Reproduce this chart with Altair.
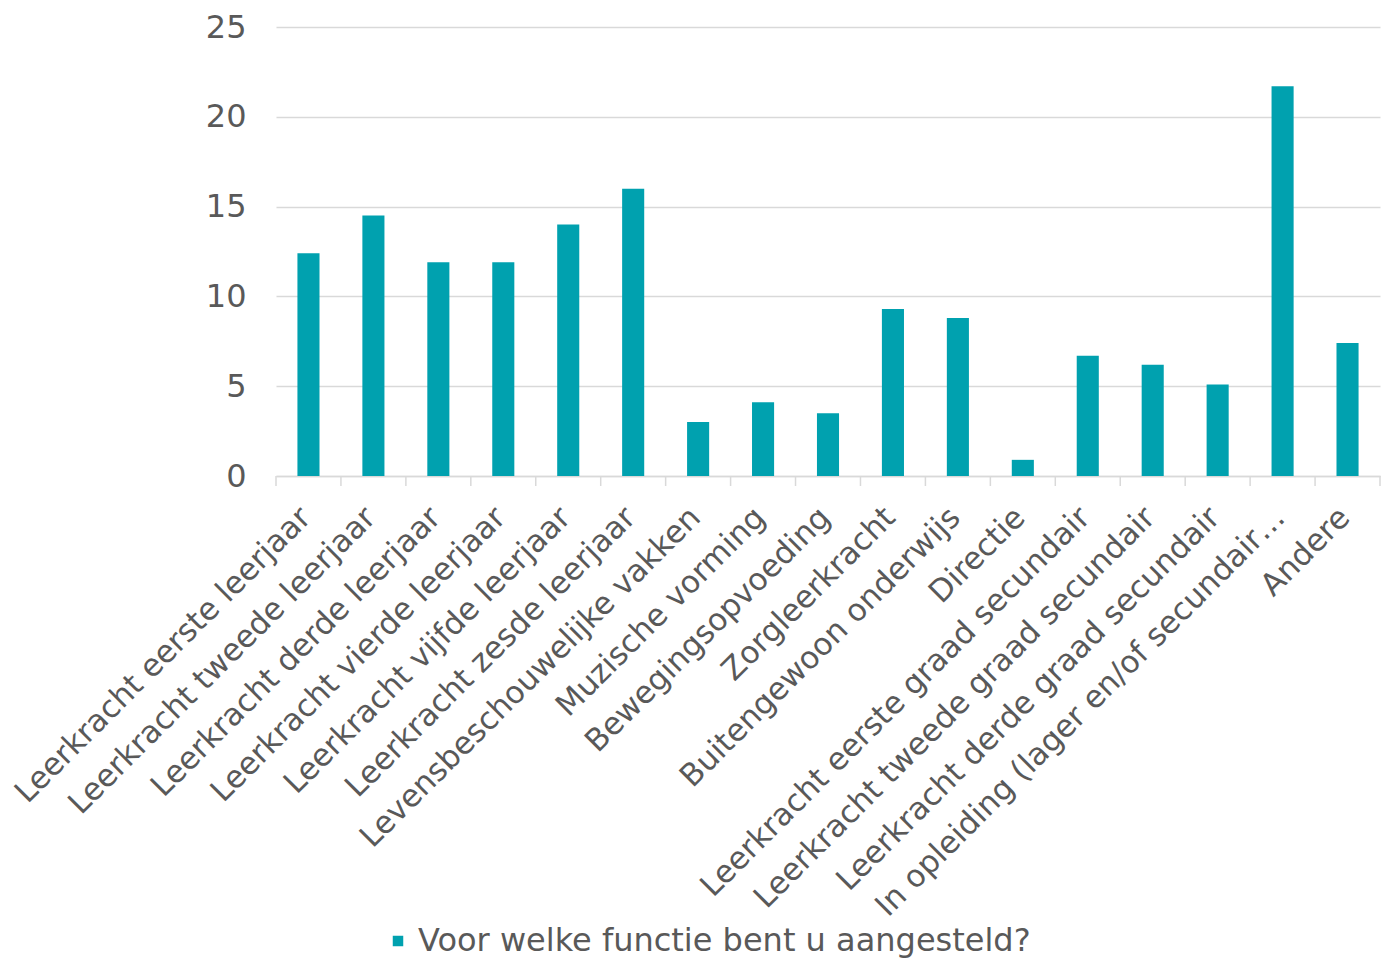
import altair as alt
import pandas as pd

categories = [
    "Leerkracht eerste leerjaar",
    "Leerkracht tweede leerjaar",
    "Leerkracht derde leerjaar",
    "Leerkracht vierde leerjaar",
    "Leerkracht vijfde leerjaar",
    "Leerkracht zesde leerjaar",
    "Levensbeschouwelijke vakken",
    "Muzische vorming",
    "Bewegingsopvoeding",
    "Zorgleerkracht",
    "Buitengewoon onderwijs",
    "Directie",
    "Leerkracht eerste graad secundair",
    "Leerkracht tweede graad secundair",
    "Leerkracht derde graad secundair",
    "In opleiding (lager en/of secundair…",
    "Andere",
]
values = [12.4, 14.5, 11.9, 11.9, 14.0, 16.0, 3.0, 4.1, 3.5, 9.3, 8.8, 0.9, 6.7, 6.2, 5.1, 21.7, 7.4]
series_name = "Voor welke functie bent u aangesteld?"
y_ticks = [0, 5, 10, 15, 20, 25]

TEAL = "#00A1AF"
TEXT = "#595959"
GRID = "#D9D9D9"
FONT = "DejaVu Sans"
FS = 32
FSX = 31

W, H = 1104, 449
PAD_INNER = 0.66
step = W / len(categories)

df = pd.DataFrame({"cat": categories, "val": values, "series": series_name})

x_enc = alt.X(
    "cat:N",
    sort=categories,
    scale=alt.Scale(paddingInner=PAD_INNER, paddingOuter=PAD_INNER / 2),
    axis=alt.Axis(
        title=None,
        labelAngle=-45,
        labelFontSize=FSX,
        labelColor=TEXT,
        labelFont=FONT,
        labelLimit=0,
        labelOverlap=False,
        labelPadding=26,
        labelOffset=-13,
        ticks=False,
        grid=False,
        domainColor=GRID,
        domainWidth=1.5,
    ),
)

bars = alt.Chart(df).mark_bar(size=step * (1 - PAD_INNER)).encode(
    x=x_enc,
    y=alt.Y(
        "val:Q",
        scale=alt.Scale(domain=[0, 25], nice=False),
        axis=alt.Axis(
            title=None,
            values=y_ticks,
            labelFontSize=FS,
            labelColor=TEXT,
            labelFont=FONT,
            labelPadding=30,
            ticks=False,
            domain=False,
            gridColor=GRID,
            gridWidth=1.5,
        ),
    ),
    color=alt.Color(
        "series:N",
        scale=alt.Scale(range=[TEAL]),
        legend=alt.Legend(
            title=None,
            orient="none",
            legendX=106,
            legendY=898,
            symbolType="square",
            symbolSize=110,
            symbolStrokeWidth=0,
            labelFontSize=FS,
            labelColor=TEXT,
            labelFont=FONT,
            labelLimit=0,
        ),
    ),
)

ticks = alt.Chart(df).mark_rule(color=GRID, strokeWidth=1.5).encode(
    x=alt.X("cat:N", sort=categories, bandPosition=0),
    xOffset=alt.value(-PAD_INNER * step / 2),
    y=alt.value(H),
    y2=alt.value(H + 10),
)

end_tick = alt.Chart(df.head(1)).mark_rule(color=GRID, strokeWidth=1.5).encode(
    x=alt.value(W),
    y=alt.value(H),
    y2=alt.value(H + 10),
)

chart = (
    alt.layer(bars, ticks, end_tick)
    .properties(width=W, height=H, view=alt.ViewBackground(strokeOpacity=0, strokeWidth=0))
    .configure_view(strokeWidth=0, stroke="transparent", strokeOpacity=0)
    .configure(background="white", padding={"left": 9, "top": 11, "right": 5, "bottom": 5})
)

chart.save("out.html", embed_options={"renderer": "svg", "actions": False})
